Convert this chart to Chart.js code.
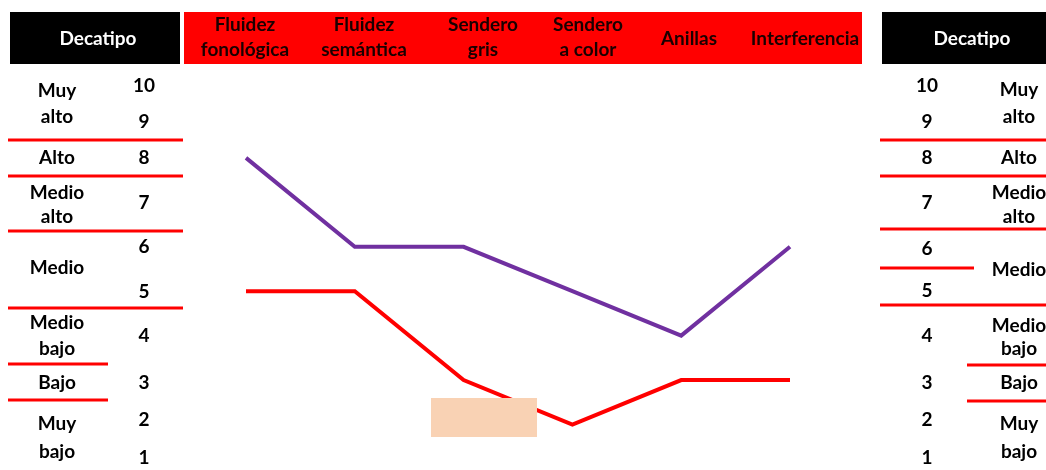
<!DOCTYPE html>
<html>
<head>
<meta charset="utf-8">
<script src="https://cdn.jsdelivr.net/npm/chart.js@4"></script>
<style>
  html, body { margin: 0; padding: 0; background: #fff; }
  #wrap { width: 1046px; height: 470px; position: relative; }
</style>
</head>
<body>
<div id="wrap"><canvas id="myChart"></canvas></div>
<script>
const categories = [
    ['Fluidez', 'fonológica'],
    ['Fluidez', 'semántica'],
    ['Sendero', 'gris'],
    ['Sendero', 'a color'],
    ['Anillas'],
    ['Interferencia']
];
const purpleValues = [8, 6, 6, 5, 4, 6];
const redValues = [5, 5, 3, 2, 3, 3];
const decatipoTicks = ['10', '9', '8', '7', '6', '5', '4', '3', '2', '1'];
const levelLabels = [['Muy', 'alto'], ['Alto'], ['Medio', 'alto'], ['Medio'], ['Medio', 'bajo'], ['Bajo'], ['Muy', 'bajo']];

// table layout (pixel rows of the side panels)
const tickRowsLeft = [86, 122, 158, 203, 247, 292, 336, 383, 420, 458];
const tickRowsRight = [86, 122, 158, 203, 249, 291, 336, 383, 420, 458];
const levelRowsLeft = [[91, 117], [158], [193, 217], [268], [323, 349], [383], [424, 452]];
const levelRowsRight = [[90, 117], [158], [193, 217], [270], [326, 349], [383], [424, 452]];
const headerCenters = [245, 364, 483, 588, 689, 805];

const FONT = 'bold 19px Lato, "DejaVu Sans", sans-serif';

function hline(ctx, x1, x2, y) {
    ctx.fillStyle = '#ff0000';
    ctx.fillRect(x1, y - 1.5, x2 - x1, 3);
}

function centered(ctx, str, x, y, color) {
    ctx.fillStyle = color;
    ctx.textAlign = 'center';
    ctx.textBaseline = 'middle';
    ctx.fillText(str, x, y);
}

const tablePlugin = {
    id: 'tablePlugin',
    beforeDraw(chart) {
        const ctx = chart.ctx;
        ctx.save();
        ctx.font = FONT;
        // headers
        ctx.fillStyle = '#000';
        ctx.fillRect(10, 12, 170, 52);
        ctx.fillRect(882, 12, 164, 52);
        ctx.fillStyle = '#ff0000';
        ctx.fillRect(184, 12, 678, 52);
        centered(ctx, 'Decatipo', 98, 39, '#fff');
        centered(ctx, 'Decatipo', 972, 39, '#fff');
        categories.forEach((c, i) => {
            if (c.length === 1) {
                centered(ctx, c[0], headerCenters[i], 39, '#1a0000');
            } else {
                centered(ctx, c[0], headerCenters[i], 25, '#1a0000');
                centered(ctx, c[1], headerCenters[i], 50, '#1a0000');
            }
        });
        // left panel
        decatipoTicks.forEach((t, i) => centered(ctx, t, 144, tickRowsLeft[i], '#000'));
        levelLabels.forEach((l, i) => l.forEach((s, j) => centered(ctx, s, 57, levelRowsLeft[i][j], '#000')));
        hline(ctx, 8, 183, 140);
        hline(ctx, 8, 183, 176);
        hline(ctx, 8, 183, 231);
        hline(ctx, 8, 183, 308);
        hline(ctx, 8, 108, 364);
        hline(ctx, 8, 108, 400);
        // right panel
        decatipoTicks.forEach((t, i) => centered(ctx, t, 927, tickRowsRight[i], '#000'));
        levelLabels.forEach((l, i) => l.forEach((s, j) => centered(ctx, s, 1019, levelRowsRight[i][j], '#000')));
        hline(ctx, 880, 1046, 140);
        hline(ctx, 880, 1046, 176);
        hline(ctx, 880, 1046, 229);
        hline(ctx, 880, 974, 268);
        hline(ctx, 880, 1046, 305);
        hline(ctx, 967, 1046, 365);
        hline(ctx, 967, 1046, 401);
        ctx.restore();
    },
    afterDatasetsDraw(chart) {
        const ctx = chart.ctx;
        ctx.save();
        ctx.fillStyle = '#f9d2b4';
        ctx.fillRect(431, 398, 106, 39);
        ctx.restore();
    }
};

const data = {
    labels: categories.map(c => c.join(' ')),
    datasets: [{
        label: 'Morado',
        data: purpleValues,
        borderColor: '#7030a0',
        borderWidth: 4,
        pointRadius: 0,
        tension: 0,
        clip: false
    }, {
        label: 'Rojo',
        data: redValues,
        borderColor: '#ff0000',
        borderWidth: 4,
        pointRadius: 0,
        tension: 0,
        clip: false
    }]
};

const config = {
    type: 'line',
    data: data,
    options: {
        responsive: true,
        maintainAspectRatio: false,
        animation: false,
        layout: {
            padding: { left: 246, right: 256, top: 69, bottom: 1 }
        },
        scales: {
            x: { display: false, offset: false },
            y: { display: false, min: 1, max: 10 }
        },
        plugins: {
            legend: { display: false },
            tooltip: { enabled: false }
        }
    },
    plugins: [tablePlugin]
};

var myChart = new Chart(document.getElementById('myChart'), config);
</script>
</body>
</html>
